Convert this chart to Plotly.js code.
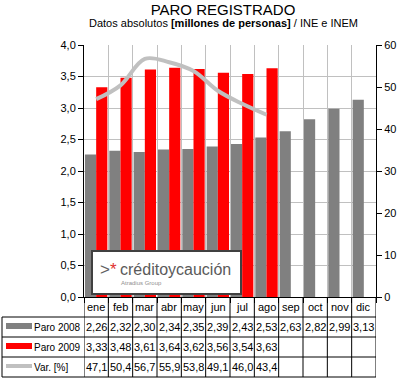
<!DOCTYPE html>
<html>
<head>
<meta charset="utf-8">
<script src="https://cdn.plot.ly/plotly-3.0.1.min.js"></script>
<style>html,body{margin:0;padding:0;background:#fff;}#chart{width:400px;height:381px;}</style>
</head>
<body>
<div id="chart"></div>
<script>
const months = ['ene','feb','mar','abr','may','jun','jul','ago','sep','oct','nov','dic'];
const paro2008 = [2.26,2.32,2.30,2.34,2.35,2.39,2.43,2.53,2.63,2.82,2.99,3.13];
const paro2009 = [3.33,3.48,3.61,3.64,3.62,3.56,3.54,3.63];
const variacion = [47.1,50.4,56.7,55.9,53.8,49.1,46.0,43.4];
const rowLabels = ['Paro 2008','Paro 2009','Var. [%]'];
const rowColors = ['#808080','#FF0000','#C0C0C0'];

const W = 400, H = 381;
const L = 84, R = 376, T = 45, B = 297;
const py = p => (B - p) / (B - T);
const px = p => (p - L) / (R - L);
const fmt = (v, d) => v.toFixed(d).replace('.', ',');

const font = {family: 'Arial, "Liberation Sans", sans-serif', color: '#000', size: 11};
const labelFont = {family: 'Arial, "Liberation Sans", sans-serif', color: '#000', size: 10};

const traces = [
  {type: 'bar', name: 'Paro 2008', x: months, y: paro2008, marker: {color: rowColors[0]}, yaxis: 'y', hoverinfo: 'skip'},
  {type: 'bar', name: 'Paro 2009', x: months.slice(0, paro2009.length), y: paro2009, marker: {color: rowColors[1]}, yaxis: 'y', hoverinfo: 'skip'},
  {type: 'scatter', mode: 'lines', name: 'Var. [%]', x: months.slice(0, variacion.length), y: variacion, yaxis: 'y2',
   line: {color: rowColors[2], width: 4, shape: 'spline', smoothing: 1}, hoverinfo: 'skip'}
];

const shapes = [];
const annotations = [];

// table rows (pixel rows)
const rowEdges = [317, 337, 357, 377];
rowEdges.forEach(p => shapes.push({type: 'line', xref: 'paper', yref: 'paper', x0: px(2), x1: 1, y0: py(p), y1: py(p), line: {color: '#000', width: 1}}));
shapes.push({type: 'line', xref: 'paper', yref: 'paper', x0: px(2), x1: px(2), y0: py(317), y1: py(377), line: {color: '#000', width: 1}});
for (let i = 0; i <= months.length; i++) {
  shapes.push({type: 'line', xref: 'x', yref: 'paper', x0: i - 0.5, x1: i - 0.5, y0: 0, y1: py(377), line: {color: '#000', width: 1}});
}
// month header
months.forEach((m, i) => annotations.push({xref: 'x', yref: 'paper', x: i, y: py(307), text: m, showarrow: false, font: font, xanchor: 'center', yanchor: 'middle'}));
// data rows
const rows = [paro2008.map(v => fmt(v, 2)), paro2009.map(v => fmt(v, 2)), variacion.map(v => fmt(v, 1))];
const rowMid = [327, 347, 367];
rows.forEach((vals, r) => {
  vals.forEach((t, i) => annotations.push({xref: 'x', yref: 'paper', x: i, y: py(rowMid[r]), text: t, showarrow: false, font: font, xanchor: 'center', yanchor: 'middle'}));
  annotations.push({xref: 'paper', yref: 'paper', x: px(32), y: py(rowMid[r]), text: rowLabels[r], showarrow: false, font: labelFont, xanchor: 'left', yanchor: 'middle'});
  shapes.push({type: 'line', xref: 'paper', yref: 'paper', x0: px(6), x1: px(32), y0: py(rowMid[r] - 1), y1: py(rowMid[r] - 1), line: {color: rowColors[r], width: r === 2 ? 4 : 6}});
});

// logo box
shapes.push({type: 'rect', xref: 'paper', yref: 'paper', x0: px(92), x1: px(241), y0: py(251), y1: py(294), fillcolor: '#fff', line: {color: '#404040', width: 2}, layer: 'above'});
annotations.push({xref: 'paper', yref: 'paper', x: px(98), y: py(269), text: '<span style="color:#606060">&gt;</span><span style="color:#E03030">*</span>', showarrow: false, font: {family: 'Arial', size: 17, color: '#606060'}, xanchor: 'left', yanchor: 'middle'});
annotations.push({xref: 'paper', yref: 'paper', x: px(118), y: py(269), text: 'créditoycaución', showarrow: false, font: {family: 'Arial', size: 16, color: '#5a5a5a'}, xanchor: 'left', yanchor: 'middle'});
annotations.push({xref: 'paper', yref: 'paper', x: px(119), y: py(283), text: 'Atradius Group', showarrow: false, font: {family: 'Arial', size: 6, color: '#909090'}, xanchor: 'left', yanchor: 'middle'});

// subtitle
annotations.push({xref: 'paper', yref: 'paper', x: px(223), y: py(23), text: 'Datos absolutos <b>[millones de personas]</b> / INE e INEM', showarrow: false, font: {family: 'Arial', size: 11, color: '#000'}, xanchor: 'center', yanchor: 'middle'});

const layout = {
  width: W, height: H,
  margin: {l: L, r: W - R, t: T, b: H - B, pad: 0},
  paper_bgcolor: '#fff', plot_bgcolor: '#fff',
  separators: ', ',
  showlegend: false,
  title: {text: 'PARO REGISTRADO', x: 223 / W, xanchor: 'center', y: 1 - 10 / H, yanchor: 'middle', font: {family: 'Arial', size: 15, color: '#000'}},
  barmode: 'group', bargap: 0.08, bargroupgap: 0,
  xaxis: {type: 'category', categoryarray: months, range: [-0.5, 11.5], tickson: 'boundaries', showgrid: true, gridcolor: '#C0C0C0', gridwidth: 1,
          showline: true, linecolor: '#000', linewidth: 1, ticks: 'outside', ticklen: 5, tickcolor: '#000', showticklabels: false, zeroline: false, fixedrange: true},
  yaxis: {range: [0, 4], dtick: 0.5, tickformat: '.1f', showgrid: true, gridcolor: '#C0C0C0', gridwidth: 1, zeroline: false,
          showline: true, linecolor: '#000', linewidth: 1, ticks: 'outside', ticklen: 5, tickcolor: '#000', tickfont: font, fixedrange: true},
  yaxis2: {range: [0, 60], dtick: 10, overlaying: 'y', side: 'right', showgrid: false, zeroline: false,
           showline: true, linecolor: '#000', linewidth: 1, ticks: 'outside', ticklen: 5, tickcolor: '#000', tickfont: font, fixedrange: true},
  shapes: shapes,
  annotations: annotations
};

Plotly.newPlot('chart', traces, layout, {displayModeBar: false, staticPlot: true});
</script>
</body>
</html>
